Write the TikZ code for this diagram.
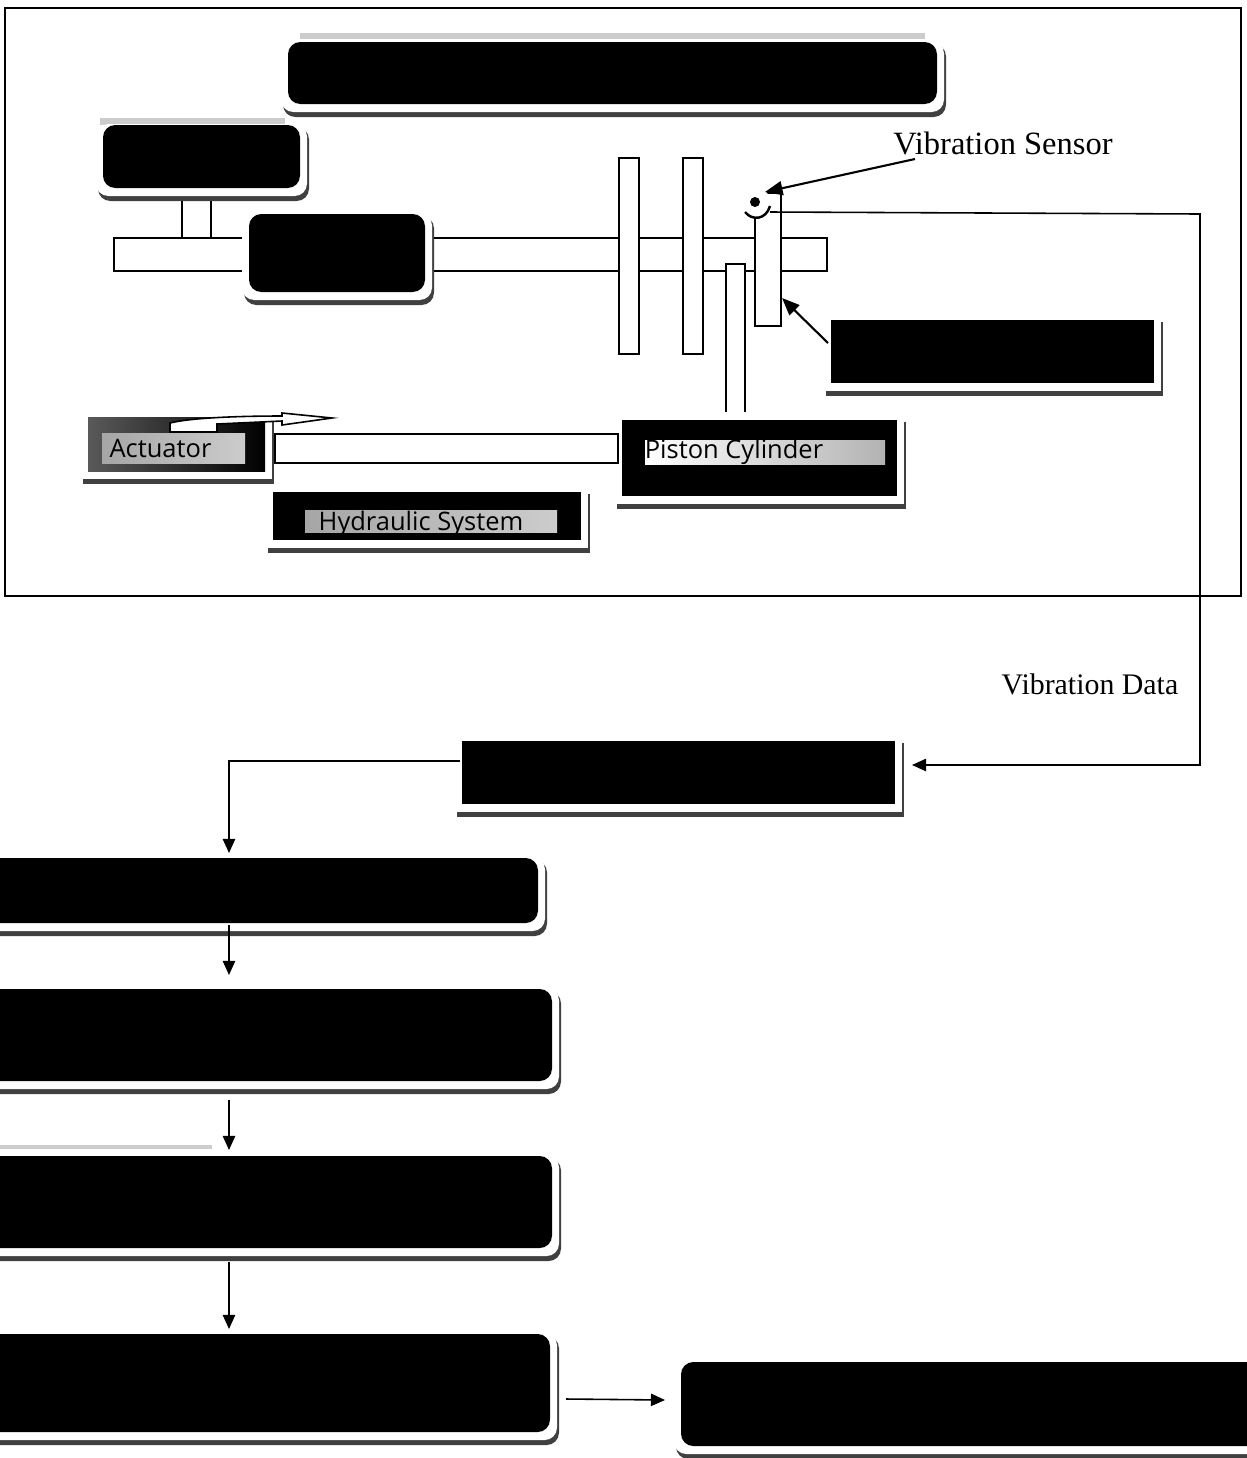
\documentclass[tikz,border=0pt]{standalone}
\usepackage{fontspec}
\setmainfont{Liberation Serif}
\newfontfamily\tagfont{Open Sans}
\usetikzlibrary{arrows.meta, fit}

\newcommand{\blockbox}[6]{%
    \fill[#1, fill=black!75] ({#3-5},{#4+2}) rectangle ({#5+9},{#6+13});
    \fill[#1, fill=white] ({#3-7},{#4-1}) rectangle ({#5+7},{#6+8});
    \node[#1, fit={(#3,#4) (#5,#6)}] (#2) {};
}

\begin{document}
\begin{tikzpicture}[
            x=0.02cm, y=-0.02cm,
            softbox/.style={rectangle, rounded corners=7pt, fill=black, inner sep=0pt},
            hardbox/.style={rectangle, fill=black, inner sep=0pt},
            part/.style={rectangle, draw=black, fill=white, line width=1.1pt, inner sep=0pt},
            tagstrip/.style={rectangle, inner sep=0pt, left color=black!35, right color=black!20},
            tagtext/.style={font=\tagfont\fontsize{14.5}{15}\selectfont, text=black},
            caption/.style={font=\fontsize{18.5}{20}\selectfont, inner sep=0pt},
            smallcaption/.style={font=\fontsize{17}{18}\selectfont, inner sep=0pt},
            flow/.style={draw=black, line width=0.9pt, -{Stealth[inset=0pt, length=8pt, width=7pt]}},
            pointer/.style={draw=black, line width=1.2pt, -{Stealth[inset=0pt, length=10pt, width=8pt]}},
            haze/.style={fill=black!20}
        ]
            \clip (0,0) rectangle (1247,1458);
            \fill[white] (0,0) rectangle (1247,1458);

            % enclosure of the test rig
            \node[rectangle, draw=black, line width=1.1pt, inner sep=0pt, fit={(5,8) (1241,596)}] (rig) {};

            % shaft line
            \node[part, fit={(182,195) (211,238)}] (coupling) {};
            \node[part, fit={(114,238) (827,271)}] (shaft) {};
            \node[part, fit={(619,158) (639,354)}] (diskA) {};
            \node[part, fit={(683,158) (703,354)}] (diskB) {};
            \node[part, fit={(755,193) (781,326)}] (diskC) {};

            % upper blocks
            \fill[haze] (300,33) rectangle (925,39);
            \fill[haze] (100,118) rectangle (285,125);
            \blockbox{softbox}{title}{288}{42}{937}{104}
            \blockbox{softbox}{motor}{103}{125}{300}{188}
            \blockbox{softbox}{bearing}{249}{214}{425}{292}
            \blockbox{hardbox}{fault}{831}{320}{1154}{383}

            % hydraulic loading
            \blockbox{hardbox}{actuator}{88}{417}{265}{471}
            \shade[left color=black!65, right color=black] (88,417) rectangle (265,471);
            \node[tagstrip, fit={(102,433) (245,463)}, label={[tagtext, xshift=-0.26cm]center:Actuator}] (actuatortag) {};
            \blockbox{hardbox}{hydraulic}{273}{492}{581}{540}
            \node[tagstrip, fit={(305,510) (557,532)}, label={[tagtext, xshift=-0.2cm, yshift=-0.06cm]center:Hydraulic System}] (hydraulictag) {};
            \blockbox{hardbox}{piston}{622}{420}{897}{496}
            \node[tagstrip, left color=white, right color=black!30, fit={(645,440) (885,464)}, label={[tagtext, xshift=-0.62cm]center:Piston Cylinder}] (pistontag) {};
            \node[part, fit={(275,434) (618,463)}] (pipe) {};
            \draw[black, line width=1.1pt, fill=white] (726,412) -- (726,264) -- (745,264) -- (745,412);
            \draw[black, line width=0.9pt, fill=white] (170,432) -- (217,432) -- (217,424) -- (282,421) -- (282,425)
                -- (332,418) -- (282,413) -- (282,416) .. controls (235,416) and (190,418) .. (170,423) -- cycle;

            % sensor
            \fill[white] (755,202) circle (15);
            \draw[black, line width=1.4pt] (745,212) .. controls (752,221) and (766,220) .. (770,206);
            \node[circle, fill=black, inner sep=0pt, minimum size=0.2cm] (sensor) at (755,202) {};
            \coordinate (sensorout) at (770,212);
            \node[caption] (sensorlabel) at (1003,143) {Vibration Sensor};
            \coordinate (sensorfrom) at (915,159);
            \coordinate (sensorto) at (765,192);
            \draw[pointer] (sensorfrom) -- (sensorto);
            \coordinate (faultfrom) at (828,343);
            \coordinate (faultto) at (782,298);
            \draw[pointer] (faultfrom) -- (faultto);

            % processing chain
            \blockbox{hardbox}{daq}{462}{741}{895}{804}
            \blockbox{softbox}{stepA}{-30}{858}{538}{923}
            \blockbox{softbox}{stepB}{-30}{989}{552}{1081}
            \fill[haze] (0,1145) rectangle (212,1149);
            \blockbox{softbox}{stepC}{-30}{1156}{552}{1248}
            \blockbox{softbox}{stepD}{-30}{1334}{550}{1432}
            \blockbox{softbox}{result}{681}{1362}{1290}{1446}

            \node[smallcaption] (datalabel) at (1090,684) {Vibration Data};
            \coordinate (bendtop) at (1200,214);
            \coordinate (bendlow) at (1200,765);
            \coordinate (daqin) at (912,765);
            \draw[flow] (sensorout) -- (bendtop) -- (bendlow) -- (daqin);
            \coordinate (daqout) at (460,761);
            \coordinate (bendleft) at (229,761);
            \coordinate (stepAin) at (229,853);
            \draw[flow] (daqout) -- (bendleft) -- (stepAin);
            \coordinate (stepAout) at (229,925);
            \coordinate (stepBin) at (229,975);
            \draw[flow] (stepAout) -- (stepBin);
            \coordinate (stepBout) at (229,1100);
            \coordinate (stepCin) at (229,1150);
            \draw[flow] (stepBout) -- (stepCin);
            \coordinate (stepCout) at (229,1262);
            \coordinate (stepDin) at (229,1329);
            \draw[flow] (stepCout) -- (stepDin);
            \coordinate (stepDout) at (566,1399);
            \coordinate (resultin) at (665,1400);
            \draw[flow] (stepDout) -- (resultin);
        \end{tikzpicture}
\end{document}
